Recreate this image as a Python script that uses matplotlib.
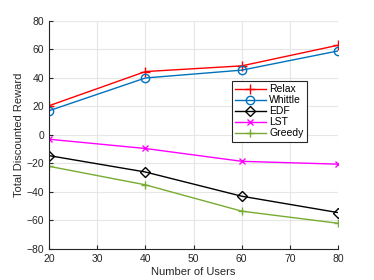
import matplotlib
matplotlib.use('Agg')
import matplotlib.pyplot as plt

plt.rcParams['font.family'] = ['Liberation Sans', 'DejaVu Sans']

users = [20, 40, 60, 80]
relax = [20.5, 44.5, 48.5, 63]
whittle = [17, 40, 45.5, 59]
edf = [-14.5, -26, -43, -54.5]
lst = [-3, -9.5, -18.5, -20.5]
greedy = [-22, -35, -53.5, -62]

fig = plt.figure(figsize=(3.74, 2.8), dpi=100)
ax = fig.add_axes([0.131, 0.111, 0.773, 0.814])

ax.plot(users, relax, marker='+', color=(1, 0, 0), label='Relax', linewidth=1, markersize=7)
ax.plot(users, whittle, marker='o', color=(0, 0.447, 0.741), label='Whittle', linewidth=1,
        markersize=6, markerfacecolor='none')
ax.plot(users, edf, marker='D', color='black', label='EDF', linewidth=1,
        markersize=5, markerfacecolor='none')
ax.plot(users, lst, marker='x', color='magenta', label='LST', linewidth=1, markersize=4)
ax.plot(users, greedy, marker='+', color=(0.467, 0.674, 0.188), label='Greedy', linewidth=1, markersize=6)

ax.set_xlim(20, 80)
ax.set_ylim(-80, 80)
ax.set_xticks(range(20, 81, 10))
ax.set_yticks(range(-80, 81, 20))
ax.grid(True, color=(0.9, 0.9, 0.9), linewidth=0.8)
ax.set_axisbelow(True)
for s in ['top', 'right']:
    ax.spines[s].set_visible(False)
for s in ['left', 'bottom']:
    ax.spines[s].set_color((0.15, 0.15, 0.15))
    ax.spines[s].set_linewidth(0.8)
ax.tick_params(direction='in', labelsize=7.5, colors=(0.15, 0.15, 0.15), length=3)

ax.set_xlabel('Number of Users', fontsize=8, color=(0.15, 0.15, 0.15), labelpad=2)
ax.set_ylabel('Total Discounted Reward', fontsize=8, color=(0.15, 0.15, 0.15), labelpad=2)

leg = ax.legend(loc='upper left', bbox_to_anchor=(0.632, 0.736), fontsize=7.5,
                fancybox=False, edgecolor=(0.15, 0.15, 0.15), framealpha=1,
                handlelength=3, labelspacing=0.1, borderpad=0.3, handletextpad=0.3,
                borderaxespad=0)
leg.get_frame().set_linewidth(0.8)

plt.savefig('out.png', dpi=100)
